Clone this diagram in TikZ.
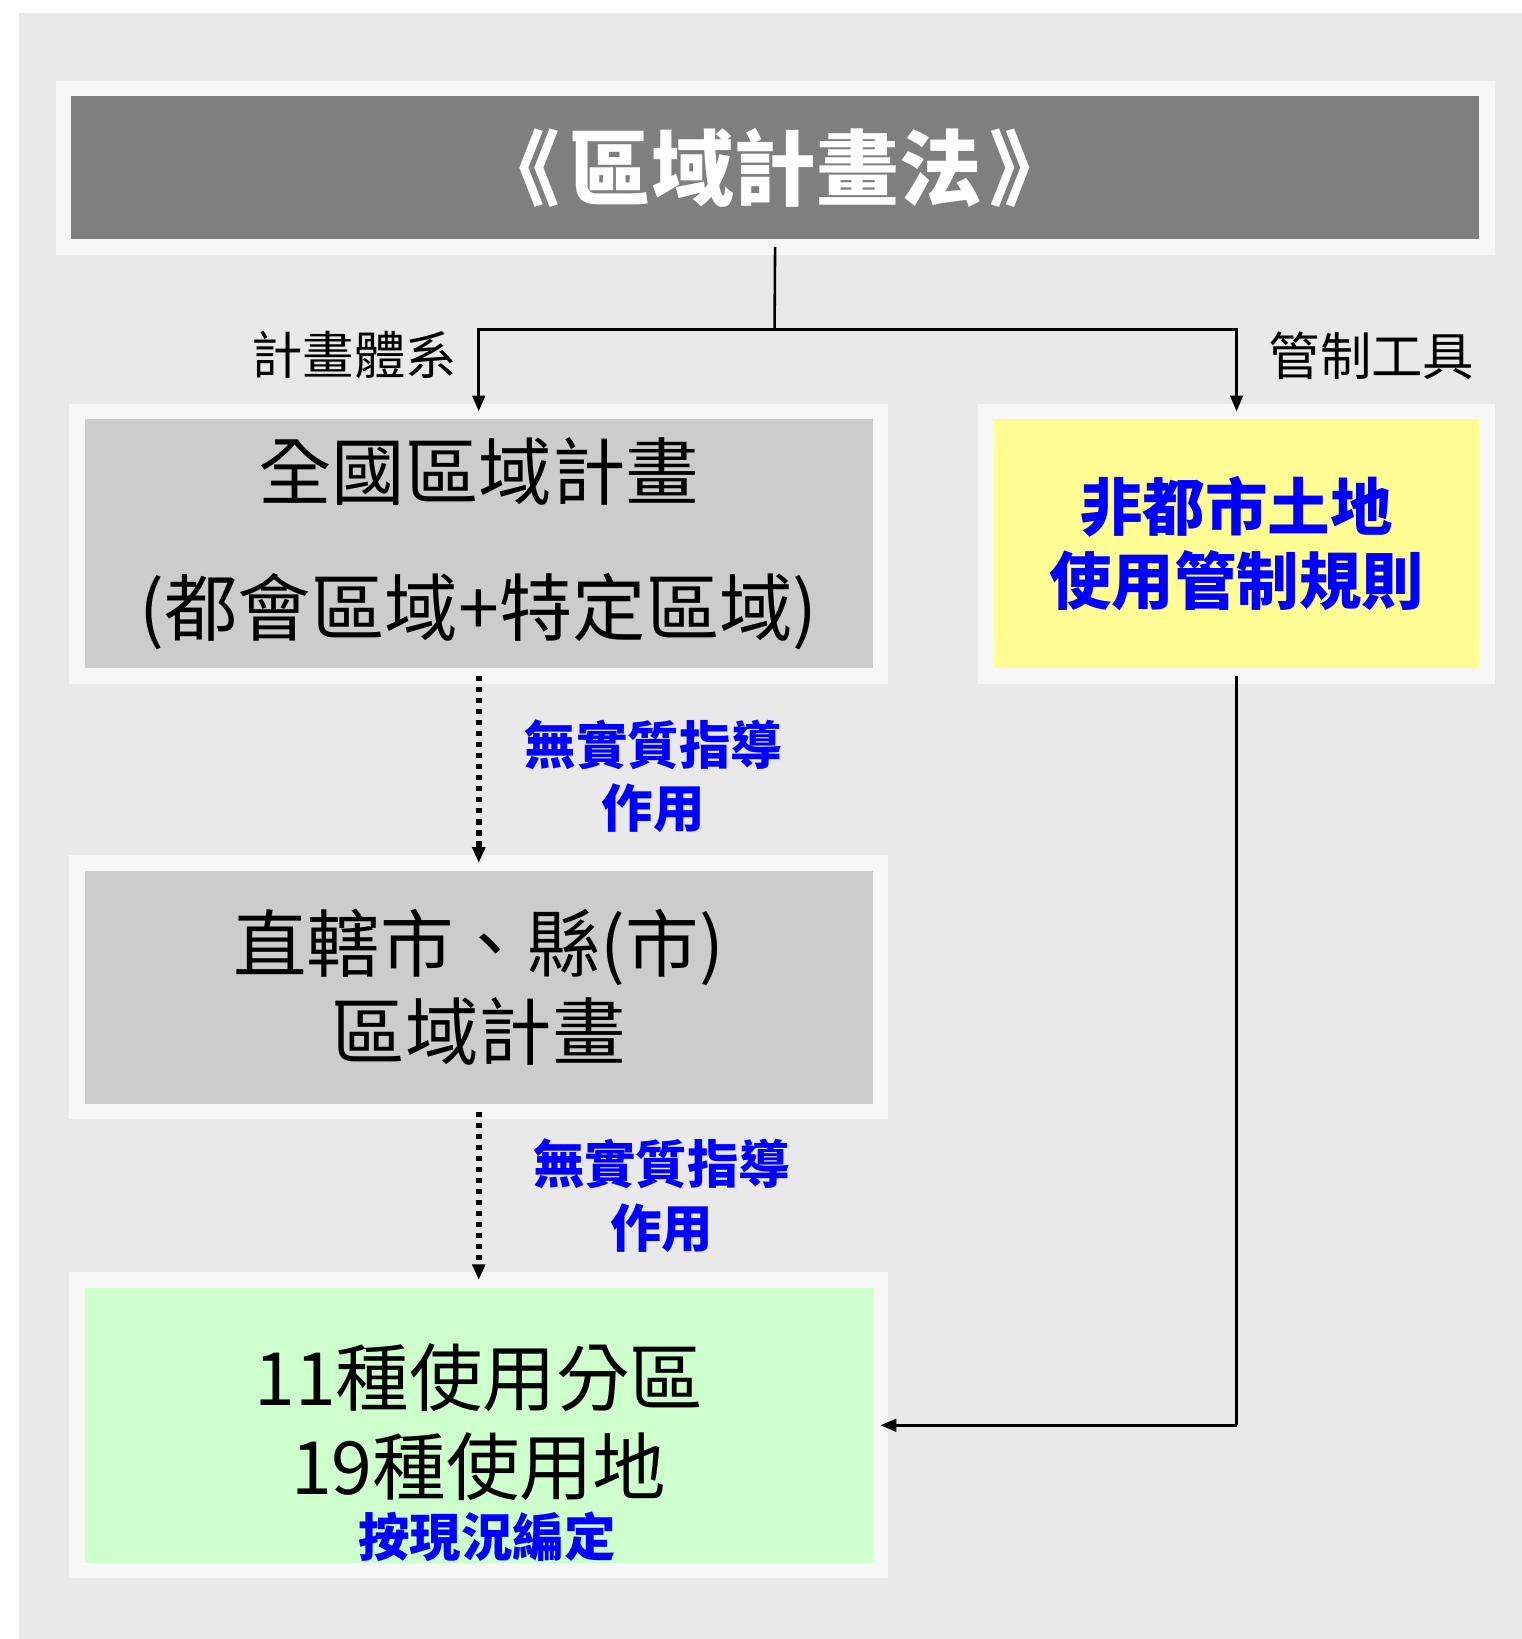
\documentclass[tikz,border=0pt]{standalone}
\usepackage{fontspec}
\setmainfont{Noto Sans CJK TC}
\usetikzlibrary{arrows.meta}
\definecolor{bggray}{HTML}{E9E9E9}
\definecolor{rimwhite}{HTML}{F7F7F7}
\definecolor{lawgray}{HTML}{7F7F7F}
\definecolor{plangray}{HTML}{CCCCCC}
\definecolor{ruleyellow}{HTML}{FFFC94}
\definecolor{zonegreen}{HTML}{CCFFCC}
\definecolor{noteblue}{HTML}{0000FF}
\tikzset{
  box/.style={draw=rimwhite,line width=0.3cm,outer sep=0pt,inner sep=0pt,align=center},
  note/.style={text=noteblue,font=\fontsize{28}{34.6}\selectfont\bfseries,align=center},
  tag/.style={font=\fontsize{28}{34}\selectfont},
  link/.style={line width=1.4pt,-{Triangle[length=0.3cm,width=0.24cm]}},
  guide/.style={link,line width=3.4pt,dash pattern=on 3pt off 3pt}
}
\begin{document}
\begin{tikzpicture}[x=0.02cm,y=-0.02cm]
  \useasboundingbox (0,0) rectangle (1456,1568);
  \fill[bggray] (18,12) rectangle (1456,1568);
  \node[box,fill=lawgray,minimum width=27.24cm,minimum height=3.04cm,text=white,
    font=\fontsize{45}{54}\selectfont\bfseries] (law) at (741.5,160.5) {《\hspace{0.1em}區域計畫法\hspace{0.1em}》};
  \begin{scope}[every node/.style={box,minimum width=15.38cm}]
  \node[fill=plangray,minimum height=5.06cm,font=\fontsize{40}{74}\selectfont]
    (national) at (458,520) {全國區域計畫\\(都會區域+特定區域)};
  \node[fill=plangray,minimum height=4.76cm,font=\fontsize{40}{48}\selectfont]
    (local) at (458,944.5) {直轄市、縣(市)\\區域計畫};
  \node[fill=zonegreen,minimum height=5.56cm] (zones) at (458,1363.5) {};
  \end{scope}
  \node[box,fill=ruleyellow,minimum width=9.58cm,minimum height=5.06cm,text=noteblue,
    font=\fontsize{34}{40.8}\selectfont\bfseries] (rules) at (1183,520) {非都市土地\\使用管制規則};
  \node[font=\fontsize{40}{48}\selectfont,align=center] (zonetext) at (458,1390)
    {11種使用分區\\19種使用地\\[-14pt]\hspace*{9pt}{\fontsize{28}{34}\selectfont\bfseries\color{noteblue}按現況編定}};
  % labels
  \node[tag] (system) at (339,340) {計畫體系};
  \node[tag] (tools) at (1312,340) {管制工具};
  \node[note] (note1) at (625,742.5) {無實質指導\\作用};
  \node[note] (note2) at (633,1144) {無實質指導\\作用};
  % connectors
  \coordinate (split) at (741,315);
  \coordinate (turn) at (1183,1363.5);
  \draw[line width=1.4pt] (law.south) -- (split);
  \draw[link] (split) -| (national.north);
  \draw[link] (split) -| (rules.north);
  \draw[guide] (national.south) -- (local.north);
  \draw[guide] (local.south) -- (zones.north);
  \draw[line width=1.4pt] (rules.south) -- (turn);
  \draw[link] (turn) -- (zones.east);
\end{tikzpicture}
\end{document}
